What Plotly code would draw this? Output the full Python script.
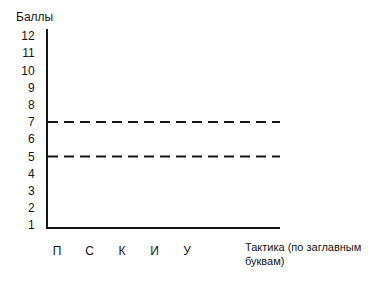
import plotly.graph_objects as go

categories = ["П", "С", "К", "И", "У"]
category_pos = [0, 1, 2, 3, 4]
y_ticks = list(range(1, 13))
thresholds = [7, 5]

FONT = "Liberation Sans, Arial, sans-serif"
INK = "#151515"

fig = go.Figure()
# invisible trace to establish axes
fig.add_trace(go.Scatter(x=category_pos, y=[None] * len(category_pos),
                         mode="markers", showlegend=False, hoverinfo="skip"))

for t in thresholds:
    fig.add_shape(type="line", xref="paper", yref="y", x0=0, x1=1, y0=t, y1=t,
                  line=dict(color=INK, width=2, dash="10px,6px"))

fig.update_layout(
    width=370, height=288,
    margin=dict(l=48, r=90, t=29, b=61),
    paper_bgcolor="white", plot_bgcolor="white",
    font=dict(family=FONT, size=12, color=INK),
    showlegend=False,
    xaxis=dict(range=[-0.28, 6.86], tickvals=category_pos, ticktext=categories,
               showgrid=False, zeroline=False, showline=True, linecolor=INK,
               linewidth=2, ticks="", ticklabelstandoff=12,
               tickfont=dict(family=FONT, size=12, color=INK)),
    yaxis=dict(range=[0.9, 12.4], tickvals=y_ticks, showgrid=False,
               zeroline=False, showline=True, linecolor=INK, linewidth=2,
               ticks="", ticklabelstandoff=9,
               tickfont=dict(family=FONT, size=12, color=INK)),
    annotations=[
        dict(text="Баллы", xref="paper", yref="paper", x=(34 - 48) / 232, y=1.0,
             yshift=12, xanchor="center", yanchor="middle", showarrow=False,
             font=dict(family=FONT, size=12, color=INK)),
        dict(text="Тактика (по заглавным<br>буквам)", xref="paper", yref="paper",
             x=(243 - 48) / 232, y=0, yshift=-12, xanchor="left", yanchor="top",
             align="left", showarrow=False,
             font=dict(family=FONT, size=11, color=INK)),
    ],
)

fig.write_html("out.html")
